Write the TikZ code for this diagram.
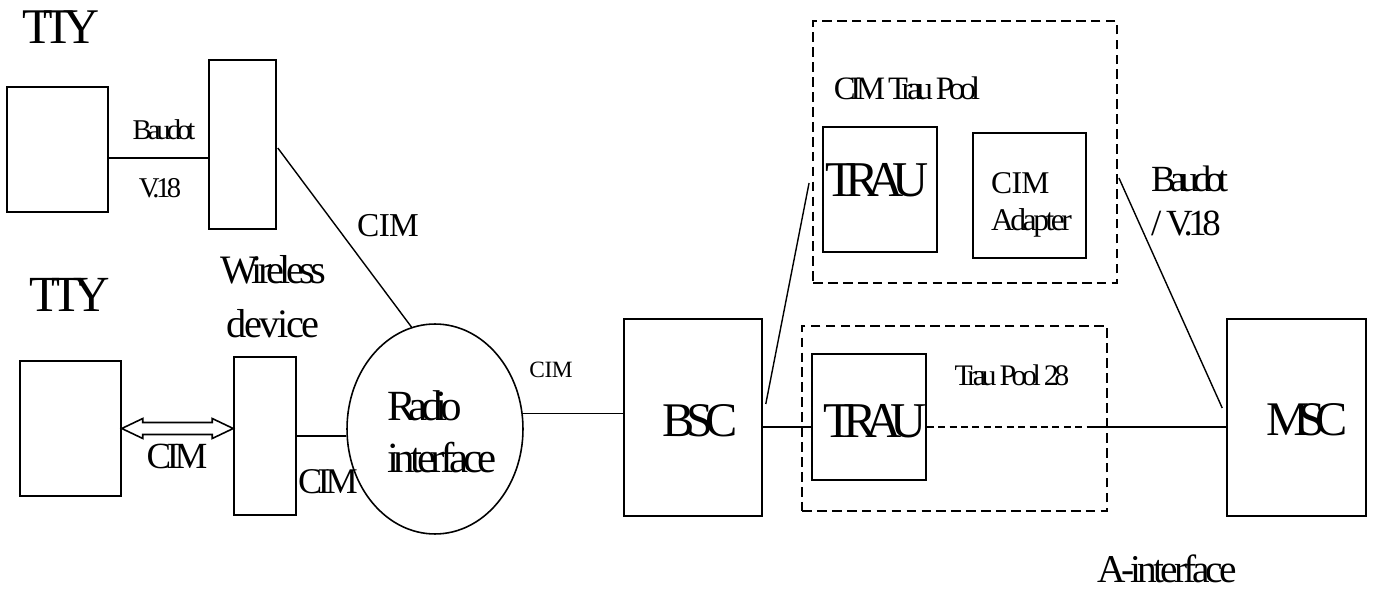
\documentclass[tikz,border=0pt]{standalone}
\usepackage{fontspec}
\setmainfont{Liberation Serif}[LetterSpace=-12]
\usetikzlibrary{calc,shapes.geometric}
\newcommand{\fsz}[2]{\fontsize{#1}{#2}\selectfont}
\newcommand{\lsp}[1]{\addfontfeature{LetterSpace=#1}}
\begin{document}
\begin{tikzpicture}[x=0.02cm,y=-0.02cm,
  box/.style={draw, line width=0.9pt, inner sep=0, rectangle},
  pool/.style={draw, line width=1.1pt, dash pattern=on 5.5pt off 3pt, inner sep=0, rectangle},
  lbl/.style={inner sep=0, outer sep=0},
  conn/.style={line width=0.8pt},
  thindash/.style={line width=0.8pt, dash pattern=on 4pt off 2.5pt}]
\useasboundingbox (0,0) rectangle (1373,591);

% boxes
\node[box, minimum width=2.02cm, minimum height=2.50cm] (tty1) at (57.5,149.5) {};
\node[box, minimum width=1.34cm, minimum height=3.38cm] (wd1) at (242.5,144.5) {};
\node[box, minimum width=2.02cm, minimum height=2.70cm] (tty2) at (70.5,428.5) {};
\node[box, minimum width=1.24cm, minimum height=3.16cm] (wd2) at (265,436) {};
\node[draw, ellipse, line width=0.9pt, inner sep=0, minimum width=3.52cm, minimum height=4.20cm] (radio) at (435,429) {};
\node[box, minimum width=2.76cm, minimum height=3.94cm] (bsc) at (693,417.5) {};
\node[box, minimum width=2.78cm, minimum height=3.94cm] (msc) at (1296.5,417.5) {};
\node[pool, minimum width=6.08cm, minimum height=5.24cm] (pool1) at (965,152) {};
\node[pool, minimum width=6.10cm, minimum height=3.70cm] (pool2) at (954.5,418.5) {};
\node[box, minimum width=2.28cm, minimum height=2.50cm] (trau1) at (880,189.5) {};
\node[box, minimum width=2.26cm, minimum height=2.50cm] (adapter) at (1029.5,195.5) {};
\node[box, minimum width=2.28cm, minimum height=2.52cm] (trau2) at (869,417) {};

% texts
\node[lbl, font=\fsz{28.4}{34}\lsp{-20}] (ttyA) at (61,27) {TTY};
\node[lbl, font=\fsz{28.8}{34}\lsp{-18}] (ttyB) at (70,295) {TTY};
\node[lbl, font=\fsz{16.3}{20}\lsp{-14}] (baudotA) at (164,130) {Baudot};
\node[lbl, font=\fsz{16.3}{20}] (v18A) at (160,188) {V.18};
\node[lbl, font=\fsz{19}{24}\lsp{-2}] (cimA) at (388,226) {CIM};
\node[lbl, font=\fsz{23}{30.7}, align=center] (wireless) at (273,297) {Wireless\\\lsp{-6}device};
\node[lbl, font=\fsz{21}{25}] (cimB) at (177,456) {CIM};
\node[lbl, font=\fsz{20.6}{25}] (cimC) at (328,482) {CIM};
\node[lbl, font=\fsz{24.5}{29.6}, align=left, anchor=west] (radiotxt) at (387,432) {\lsp{-16}Radio\\interface};
\node[lbl, font=\fsz{13.3}{16}\lsp{-2}] (cimD) at (551,370) {CIM};
\node[lbl, font=\fsz{27.5}{33}\lsp{-17}] (bsctxt) at (700,421) {BSC};
\node[lbl, font=\fsz{27.5}{33}\lsp{-22}] (msctxt) at (1307,420) {MSC};
\node[lbl, font=\fsz{28.5}{34}\lsp{-22}] (trau1txt) at (877,180) {TRAU};
\node[lbl, font=\fsz{28.5}{34}\lsp{-22}] (trau2txt) at (875,421) {TRAU};
\node[lbl, font=\fsz{18.6}{22}\lsp{-16}] (pool1txt) at (907,88) {CIM Trau Pool};
\node[lbl, font=\fsz{17}{20}\lsp{-15}] (pool2txt) at (1012,375) {Trau Pool 28};
\node[lbl, font=\fsz{18}{21}, align=left, anchor=west] (adaptertxt) at (991,205) {\lsp{-2}CIM\\\lsp{-11}Adapter};
\node[lbl, font=\fsz{21}{24.5}, align=left, anchor=west] (baudotB) at (1151,201) {\lsp{-16}Baudot\\/ V.18};
\node[lbl, font=\fsz{22.4}{28}\lsp{-10}] (aif) at (1167,569) {A-interface};

% connectors
\coordinate (b1) at ([shift={(0,8.5)}]tty1.east);
\draw[conn] (b1) -- (b1 -| wd1.west);
\draw[conn] ([shift={(1,3.5)}]wd1.east) -- (radio.103);
\draw[conn] (wd2.east) -- (wd2.east -| radio.west);
\draw[conn] (radio.10) -- (radio.10 -| bsc.west);
\coordinate (b2) at ([shift={(0,9.5)}]bsc.east);
\draw[conn] (b2) -- (b2 -| trau2.west);
\draw[conn] ([shift={(3,-13.5)}]bsc.east) -- ([shift={(-3,31)}]pool1.west);
\coordinate (t2) at ([shift={(0,10)}]trau2.east);
\coordinate (split) at (1088,427);
\draw[thindash] (t2) -- (split);
\draw[conn] (split) -- (split -| msc.west);
\draw[conn] ([shift={(1,26)}]pool1.east) -- ([shift={(-4,-9.5)}]msc.west);

% hollow double arrow
\coordinate (aL) at (tty2.east);
\coordinate (aR) at (aL -| wd2.west);
\draw[line width=0.9pt, fill=white, line join=miter] (aL) -- ++(21,-10) -- ++(0,4) -- ($(aR)+(-21,-6)$) -- ++(0,-4) -- (aR) -- ++(-21,10) -- ++(0,-4) -- ($(aL)+(21,6)$) -- ++(0,4) -- cycle;
\end{tikzpicture}
\end{document}
